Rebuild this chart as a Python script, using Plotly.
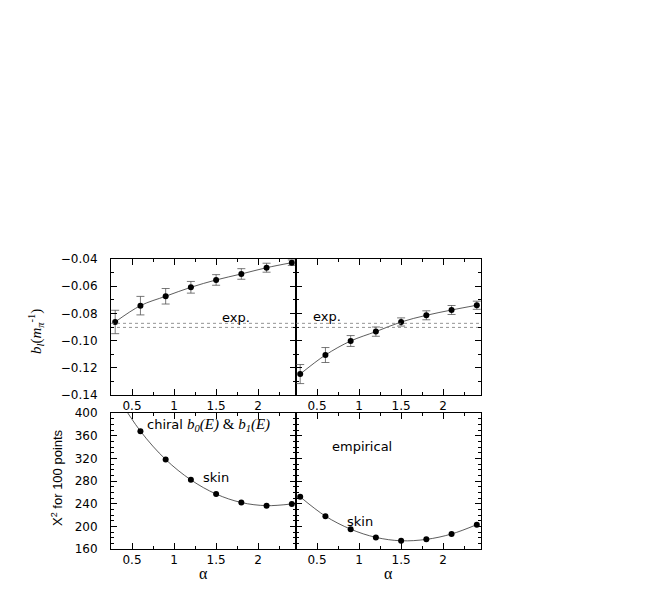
import plotly.graph_objects as go

alpha = [0.3, 0.6, 0.9, 1.2, 1.5, 1.8, 2.1, 2.4]

# top panels: b_l (m_pi^-1)
b_chiral = [-0.0863, -0.0743, -0.0674, -0.0608, -0.0554, -0.0510, -0.0464, -0.0427]
b_chiral_err = [0.0086, 0.0068, 0.0057, 0.0043, 0.0039, 0.0039, 0.0033, 0.0020]
b_emp = [-0.1246, -0.1106, -0.1003, -0.0934, -0.0863, -0.0814, -0.0775, -0.0740]
b_emp_err = [0.0070, 0.0055, 0.0040, 0.0034, 0.0030, 0.0033, 0.0033, 0.0030]
exp_band = [-0.0873, -0.0903]
alpha_span = [0.25, 2.45]

# bottom panels: chi^2 for 100 points
chi_chiral = [435, 368, 318, 282, 257, 242, 236.5, 239.5]
chi_emp = [252, 218, 195, 180.5, 174.5, 177, 186.5, 203]

xticks = [0.5, 1, 1.5, 2]
xtick_text = ["0.5", "1", "1.5", "2"]

W, H = 654, 599
OFF = 8  # page body margin


def fx(px):
    return (px - OFF) / W


def fy(py):
    return 1 - (py - OFF) / H


xl = [fx(111), fx(296)]
xr = [fx(296), fx(481)]
yt = [fy(395), fy(259)]
yb = [fy(549), fy(413)]

LINE = "#333333"
FONT = "DejaVu Sans, Liberation Sans, Arial, sans-serif"

fig = go.Figure()


def add_panel(xa, ya, y, err=None):
    fig.add_trace(go.Scatter(
        x=alpha, y=y, mode="lines+markers", xaxis=xa, yaxis=ya,
        line=dict(color=LINE, width=0.8, shape="spline"),
        marker=dict(color="black", size=6),
        error_y=(dict(type="data", array=err, visible=True, color="#555555",
                      thickness=0.8, width=4) if err else None),
        showlegend=False, hoverinfo="skip"))


add_panel("x", "y", b_chiral, b_chiral_err)
add_panel("x2", "y2", b_emp, b_emp_err)
add_panel("x3", "y3", chi_chiral)
add_panel("x4", "y4", chi_emp)

for xa, ya in [("x", "y"), ("x2", "y2")]:
    for e in exp_band:
        fig.add_trace(go.Scatter(
            x=alpha_span, y=[e, e], mode="lines", xaxis=xa, yaxis=ya,
            line=dict(color="#777777", width=0.8, dash="dot"),
            showlegend=False, hoverinfo="skip"))


def xaxis(dom, anchor):
    return dict(domain=dom, anchor=anchor, range=alpha_span,
                tickvals=xticks, ticktext=xtick_text,
                ticks="inside", ticklen=6, tickcolor="black",
                minor=dict(ticks="inside", ticklen=3, dtick=0.25, tick0=0, tickcolor="black"),
                showline=True, linecolor="black", linewidth=1, mirror="allticks",
                showgrid=False, zeroline=False, automargin=False,
                tickfont=dict(family=FONT, size=12, color="black"))


def yaxis(dom, anchor, rng, dtick, mdtick, labels, fmt=None):
    d = dict(domain=dom, anchor=anchor, range=rng, dtick=dtick, tick0=0,
             ticks="inside", ticklen=6, tickcolor="black",
             minor=dict(ticks="inside", ticklen=3, dtick=mdtick, tick0=0, tickcolor="black"),
             showline=True, linecolor="black", linewidth=1, mirror="allticks",
             showgrid=False, zeroline=False, showticklabels=labels, automargin=False,
             ticklabelstandoff=10,
             tickfont=dict(family=FONT, size=12, color="black"))
    if fmt:
        d["tickformat"] = fmt
    return d


fig.update_layout(
    template="none",
    width=W, height=H,
    margin=dict(l=0, r=0, t=0, b=0, pad=0),
    paper_bgcolor="white", plot_bgcolor="white",
    xaxis=xaxis(xl, "y"),
    xaxis2=xaxis(xr, "y2"),
    xaxis3=xaxis(xl, "y3"),
    xaxis4=xaxis(xr, "y4"),
    yaxis=yaxis(yt, "x", [-0.14, -0.04], 0.02, 0.01, True, ".2f"),
    yaxis2=yaxis(yt, "x2", [-0.14, -0.04], 0.02, 0.01, False),
    yaxis3=yaxis(yb, "x3", [160, 400], 40, 10, True),
    yaxis4=yaxis(yb, "x4", [160, 400], 40, 10, False),
)

txt = dict(family=FONT, size=13, color="black")
serif = "font-family:'Liberation Serif', 'Times New Roman', serif"


def note(x, y, xr_, yr_, text, **kw):
    d = dict(x=x, y=y, xref=xr_, yref=yr_, text=text, showarrow=False,
             xanchor=kw.pop("xanchor", "center"), yanchor="middle", font=kw.pop("font", txt))
    d.update(kw)
    return d


ann = [
    note(1.74, -0.0832, "x", "y", "exp."),
    note(0.62, -0.0820, "x2", "y2", "exp."),
    note(0.655, 378.7, "x3", "y3",
         f"chiral <span style=\"{serif}; font-size:15px\"><i>b<sub>0</sub>(E)</i> &amp; <i>b<sub>1</sub>(E)</i></span>",
         xanchor="left"),
    note(1.317, 286.8, "x3", "y3", "skin", xanchor="left"),
    note(0.655, 341.3, "x4", "y4", "empirical", xanchor="left"),
    note(0.833, 209, "x4", "y4", "skin", xanchor="left"),
    note(fx(36), fy(332), "paper", "paper",
         f"<span style=\"{serif}\"><i>b<sub>l</sub></i>(<i>m<sub>\u03c0</sub></i><sup>-1</sup>)</span>",
         textangle=-90, font=dict(family=FONT, size=15, color="black")),
    note(fx(57), fy(478), "paper", "paper", "X<sup>2</sup> for 100 points",
         textangle=-90,
         font=dict(family="Liberation Sans Narrow, Arial Narrow, Liberation Sans, sans-serif",
                   size=13, color="black")),
    note(fx(203), fy(573), "paper", "paper", "\u03b1",
         font=dict(family="Liberation Serif, serif", size=16, color="black")),
    note(fx(389), fy(573), "paper", "paper", "\u03b1",
         font=dict(family="Liberation Serif, serif", size=16, color="black")),
]
fig.update_layout(annotations=ann)

fig.write_html("out.html")
